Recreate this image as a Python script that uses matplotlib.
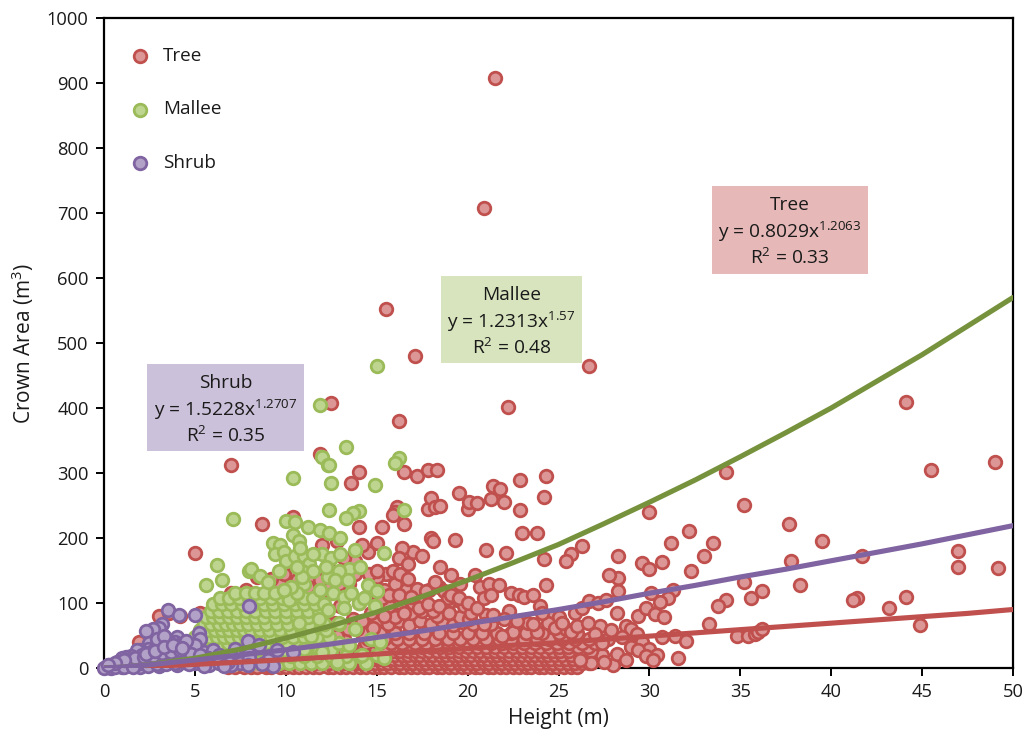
import numpy as np
import matplotlib
matplotlib.use("Agg")
import matplotlib.pyplot as plt
from matplotlib.patches import Rectangle

plt.rcParams['font.family'] = ['Open Sans', 'DejaVu Sans']
plt.rcParams['mathtext.fontset'] = 'custom'
plt.rcParams['mathtext.rm'] = 'Open Sans'
plt.rcParams['mathtext.default'] = 'regular'

tree_sparse = [(21.5,908),(20.9,707),(15.5,552),(17.1,480),(26.7,464),(22.2,402),(12.5,408),(16.2,380),(11.9,330),(7,313),
(13.6,284),(14,302),(16.5,302),(17.2,296),(17.8,304),(18.3,305),(21.4,280),(21.8,275),(21.3,260),(22,255),(19.5,269),(20,245),
(20.1,255),(20.5,254),(22.9,243),(22.9,289),(24.2,263),(24.3,295),(23.8,207),(23,208),(17.8,245),(18,262),(18.2,248),(18.5,250),
(16.1,248),(16,240),(16.5,222),(15.9,235),(15,193),(15.3,217),(14,217),(8.7,221),(10.4,232),(44.1,410),(45.5,304),(49,317),
(34.2,302),(35.2,251),(37.7,221),(39.5,195),(41.7,172),(47,180),(47,156),(49.2,154),(44.1,109),(41.4,108),(41.2,104),(43.2,92),
(44.9,66),(37.8,165),(38.3,127),(36.2,118),(35.2,132),(35.6,107),(34.2,105),(33.8,96),(33.5,193),(33,172),(32.2,211),(32.3,150),
(31.2,193),(31.3,120),(31,108),(30.6,102),(30.7,163),(30,240),(29.6,162),(30,153),(28.3,173),(28.3,138),(27.8,143),(28.3,118),
(25.7,175),(25.4,164),(26.3,188),(24.2,167),(24.3,127),(21,182),(22.1,177),(19.3,197),(18,200),(18.5,155),(17,178),(16.4,185),
(16.2,170),(15.5,145),(15,140),(14.5,178),(14.2,190),(13.8,165),(13.2,170),(12.8,195),(12.5,150),(12,190),(11.5,140),(11,160),
(10.2,145),(9.7,130),(9.2,137),(8.4,140),(7.8,120),(7,115),(6.3,90),(5.3,85),(5,177),(3,80),(3.6,85),(4.2,80),(1.9,40),
(16.7,160),(17.5,172),(18.1,195),(18.4,125),(19.1,143),(19.6,130),(20.4,143),(20.7,125),(21.2,130),(21.7,128),(22.4,115),(22.8,112),
(23.1,110),(23.6,112),(24,95),(24.6,80),(25,78),(25.4,60),(25.9,85),(26.3,92),(26.7,103),(27.2,100),(27.6,105),(28.2,84),(28.7,65),
(29,60),(29.4,80),(29.8,92),(30.1,115),(30.3,83),(30.8,78),(31.4,50),(31.6,16),(32,42),(33.3,68),(34.8,50),(35.4,50),(35.8,52),
(36,55),(36.2,60),(29.3,52),(29.6,40),(30,30),(30.4,20),(30.7,48),(27.3,65),(27.7,45),(27.9,58),(28,5),(27.5,10),(26.8,8),(26.2,12),
(19.4,105),(19.8,95),(20.2,85),(21,82),(21.4,82),(22.3,88),(23.3,70),(23.8,55),(24.4,70),(22.5,55),(21.9,50),(20.9,68),
(18.9,100),(18.1,88),(17.6,105),(17,100),(16.6,120),(16,130),(15.4,120),(15,115),(14.4,110),(14,100),(13.5,130),(13,95),
(12.5,115),(12.1,85),(11.4,92),(10.8,105),(10.1,90),(9.4,75),(8.8,95),(8.3,70),(7.6,55),(18.7,118),(17.9,120),(17.3,118),(16.3,100),
(15.7,95),(14.7,85),(13.7,75),(12.7,70),(11.7,65),(10.6,60),(9.6,50),(8.9,45),(7.9,35),(6.9,20),
(14.6,145),(15,150),(15.9,150),(16.3,145),(16.7,137),(17.2,122),(17.7,118),(18.2,132),(18.9,108),(19.1,112),(19.5,108),(20,100),
(20.5,92),(20.9,108),(21.3,112),(22,75),(22.7,72),(23.6,68),(24.1,84),(24.8,62),(25.2,70),(25.7,55),(26,64),(26.6,70),
(27,52),(27.4,38),(28.5,48),(29,32),(29.4,28),(29.8,18),(30.2,12),(28.2,22),(28.7,12),
(13.8,145),(13.2,125),(12.9,130),(12.3,125),(11.9,135),(11.2,125),(10.6,135),(9.9,145),(9.1,120),(14.9,100),(15.3,108),(15.7,112),
(16.2,112),(16.9,110),(17.3,92),(17.8,98),(18.4,95),(19,85),(16,78),(16.5,85),(15.4,80),(14.8,62),(14.2,72),(13.4,60),(12.8,50)]
tree_row_y = [2, 8, 14, 20, 26, 32, 38, 45, 54]
tree_row_x = [
[6.8,7.2,7.7,8.1,8.4,8.9,9.2,9.7,10,10.4,10.7,11.1,11.5,11.8,12.3,12.6,13,13.3,13.7,14.1,14.4,14.8,15.1,15.4,15.8,16.2,16.5,16.9,17.2,17.6,17.9,18.3,18.6,19,19.3,19.7,20,20.4,20.7,21.1,21.4,21.8,22.1,22.5,22.8,23.2,23.5,23.9,24.2,24.6,24.9,25.3,25.7,26],
[8.1,8.6,9,9.5,9.9,10.3,10.8,11.2,11.6,12,12.4,12.8,13.2,13.5,13.9,14.2,14.6,14.9,15.3,15.6,16,16.3,16.7,17,17.4,17.7,18.1,18.4,18.8,19.1,19.5,19.8,20.2,20.5,20.9,21.2,21.6,21.9,22.3,22.6,23,23.3,23.7,24,24.4,24.7,25.1,25.5,25.9,26.3,26.7],
[9.4,10,10.5,11,11.4,11.9,12.3,12.7,13.1,13.4,13.8,14.1,14.5,14.8,15.2,15.5,15.9,16.2,16.6,16.9,17.3,17.6,18,18.3,18.7,19,19.4,19.7,20.1,20.4,20.8,21.1,21.5,21.8,22.2,22.5,22.9,23.2,23.6,23.9,24.3,24.6,25,25.4,25.8,26.2,26.6,27],
[11,11.6,12.2,12.6,13,13.5,13.9,14.3,14.6,15,15.3,15.7,16,16.4,16.7,17.1,17.4,17.8,18.1,18.5,18.8,19.2,19.5,19.9,20.2,20.6,20.9,21.3,21.6,22,22.3,22.7,23,23.4,23.7,24.1,24.4,24.8,25.2,25.7,26.3,26.9,27.4],
[12.6,13.2,13.7,14.2,14.6,15,15.5,15.9,16.3,16.7,17.1,17.5,17.9,18.3,18.7,19.1,19.5,19.9,20.3,20.7,21.1,21.5,21.9,22.3,22.7,23.1,23.5,23.9,24.3,24.7,25.1,25.6,26.2,26.8],
[13.5,14.3,14.9,15.4,16,16.5,17,17.5,18,18.5,19,19.5,20,20.5,21,21.5,22,22.5,23,23.5,24,24.5,25,25.5,26.1,26.6],
[14.4,15.1,15.8,16.4,17.1,17.7,18.3,18.9,19.5,20.1,20.7,21.3,21.9,22.5,23.1,23.7,24.3,24.9,25.6,26.3,27],
[13.2,14.5,15.4,16.1,16.8,17.5,18.2,18.9,19.6,20.3,21,21.7,22.4,23.1,23.8,24.5,25.2,25.9,26.7],
[14.2,15.2,16,16.8,17.6,18.4,19.2,20,20.8,21.6,22.4,23.2,24.1,25,26],
]
tree_upper = [(15.6,68),(16.2,72),(16.8,66),(17.4,72),(18,67),(18.6,72),(19.2,66),(19.7,71),(20.3,67),(21.3,68),(22.6,66),
(16.9,84),(17.5,88),(18.3,80),(19,84),(19.6,78),(20.1,76),(15.9,82),(14.9,70),(13.9,60)]

mallee_sparse = [(15,464),(11.9,405),(13.3,340),(16.2,323),(12,325),(12.3,312),(12.4,313),(16,316),(10.4,292),(12.5,284),(14.9,281),
(16.5,243),(12.4,243),(14,242),(13.7,239),(13.3,231),(7.1,229),(10,226),(10.5,224),(11.2,217),(11.9,213),(12.4,208),(13,200),(13.8,182),
(15.4,177),(10.4,205),(9.3,192),(9.7,190),(9.4,175),(9.9,178),(10,165),(10.5,172),(11,172),(11.3,160),(12,175),(11.5,175),(12.5,170),
(13,175),(13.5,153),(14.1,156),(13.4,135),(6.2,158),(6.5,135),(5.6,128),(8,150),(8.1,153),(8.6,142),(9,133),(10.7,195),(10.9,150),
(11.5,150),(12.9,150),(12.3,140),(11,130),(11.9,120),(12.6,115),(13.2,110),(14.5,128),(15,118),(14,100),(13.2,92),(12.3,90),(11.8,75),
(12.9,70),(13.8,60),(14.7,45),(15,20),(14.2,20),(13.5,35),(12.8,10),(12,25),(11,30),(11.4,50),(10.7,70),(10.2,105),(10.6,115),
(10.8,185),(10.9,140),(10.6,155),(10.3,125),(9.9,120),(9.6,150),(12.2,155),(12.7,135),(13.6,115),(14.3,108),(14.9,95),(15.2,40),(15.4,16)]
mallee_row_y = [8, 18, 28, 38, 48, 58, 68, 78, 88, 98, 108, 116]
mallee_row_x = [
[4.6,5.2,5.8,6.3,6.8,7.3,7.7,8.1,8.6,9.1,9.6,10.2,10.8,11.4,12,12.8,13.5,14.4],
[3.9,4.7,5.3,5.8,6.2,6.6,7,7.4,7.8,8.2,8.7,9.2,9.7,10.3,11,11.7,12.5,13.3,14.1],
[3.2,4.4,5,5.5,5.9,6.3,6.7,7.1,7.5,7.9,8.3,8.8,9.3,9.9,10.5,11.1,11.8,12.5],
[4.7,5.2,5.6,6,6.4,6.8,7.2,7.6,8,8.4,8.9,9.5,10.1,10.7,11.3,12,12.9],
[5,5.4,5.8,6.2,6.6,7,7.4,7.8,8.2,8.7,9.2,9.8,10.4,11,11.7,12.4],
[5.3,5.7,6.1,6.5,6.9,7.3,7.7,8.1,8.6,9.1,9.7,10.3,10.9,11.5,12.2],
[5.5,5.9,6.3,6.7,7.1,7.5,7.9,8.4,8.9,9.5,10.1,10.7,11.3,12.1,12.9],
[5.6,6,6.4,6.9,7.3,7.8,8.3,8.8,9.4,10,10.6,11.2,11.8],
[5.9,6.3,6.8,7.3,7.8,8.3,8.9,9.4,10,10.6,11.2,11.8],
[6,6.5,7,7.6,8.2,8.8,9.3,9.9,10.5,11,11.6,12.1],
[6.4,6.9,7.4,8,8.6,9.2,9.8,10.4,11,11.5],
[7.2,7.8,8.3,8.8,9.4,10,10.6],
]

shrub_points = [(3.5,90),(3.2,68),(3,62),(2.7,60),(2.3,57),(4.1,82),(5,82),(8,95),(7.9,42),(7.2,30),(5.2,54),(5.3,45),(4,48),(3.9,40),
(3.5,42),(3,37),(2.8,34),(2.5,38),(2.4,30),(2,27),(1.8,28),(1.5,18),(1.2,17),(1,15),(0.7,10),(0.3,5),(0.1,1),(0.2,2),(0.5,3),(1,8),
(1.5,10),(2,14),(2.5,15),(3,20),(3.5,22),(4,25),(4.5,28),(5,28),(5.5,24),(6,28),(6.6,12),(6,10),(7,18),(7.5,8),(8,22),(9,12),(9.3,3),
(10.4,25),(9.5,28),(8.5,35),(8,15),(7,5),(5,8),(4,5),(3,3),(2,2),(1,1),(0.4,0),(0,0),(0.8,4),(1.3,5),(1.8,6),(2.2,8),(2.7,9),(3.2,10),
(3.7,12),(4.2,14),(4.7,15),(5.2,16),(5.7,15),(6.3,20),(2.1,20),(2.6,24),(3.1,28),(3.6,32),(4.1,35),(4.6,38),(5,35),(1.4,12),(0.9,6),(2.9,45),
(3.3,50),(4.5,42),(3.7,30),(0.6,1),(1.1,2),(1.6,2),(2.4,3),(2.9,6),(3.4,6),(3.9,8),(4.4,9),(4.9,12),(5.4,9),(5.8,5),(6.3,8),(2.3,12),(2.8,13),
(3.3,15),(3.8,17),(4.3,19),(4.8,21),(5.3,20),(1.7,15),(2.2,17),(2.7,19),(3.2,23),(3.7,24),(4.2,27),(2.3,22),(2.8,26),(3.3,33),(3.8,36),(4.3,31),
(1.1,12),(0.6,7),(0.2,4),(8.7,6),(7.9,5),(6.8,9),(4.7,6),(5.5,3),(6.6,3)]

trend_x = [0, 1, 2.5, 5, 7.5, 10, 12.5, 15, 17.5, 20, 22.5, 25, 27.5, 30, 32.5, 35, 37.5, 40, 42.5, 45, 47.5, 50]
tree_trend = [0, 0.8, 2.4, 5.6, 9, 12.9, 17, 21.4, 26, 30, 35, 39, 44, 49, 54, 59, 64, 69, 74, 79, 84, 90]
mallee_trend = [0, 1.2, 5.4, 15, 29, 46, 65, 86, 110, 135, 162, 190, 222, 255, 289, 325, 362, 400, 441, 482, 526, 570]
shrub_trend = [0, 1.5, 5, 12.3, 20, 28, 37, 47, 57, 68, 79, 90, 102, 115, 127, 140, 152, 165, 178, 191, 205, 219]

x_ticks = list(range(0, 51, 5))
y_ticks = list(range(0, 1001, 100))

fig = plt.figure(figsize=(10.29, 7.46), dpi=100)
W, H = 1029, 746
ax = fig.add_axes([104/W, 1-668/H, (1013-104)/W, (668-18)/H])
ax.set_xlim(0, 50)
ax.set_ylim(0, 1000)

def pts(*lists):
    return np.array([p for l in lists for p in l], dtype=float)

def rows(ys, xs):
    return [(x, y) for y, r in zip(ys, xs) for x in r]

tree = pts(rows(tree_row_y, tree_row_x), tree_upper, tree_sparse)
mallee = pts(rows(mallee_row_y, mallee_row_x), mallee_sparse)
shrub = pts(shrub_points)
mk = dict(s=82, linewidths=2.0, clip_on=False)
h1 = ax.scatter(tree[:, 0], tree[:, 1], c='#DB9695', edgecolors='#C0504D', zorder=3, label='Tree', **mk)
h2 = ax.scatter(mallee[:, 0], mallee[:, 1], c='#BDD58F', edgecolors='#9BBB59', zorder=4, label='Mallee', **mk)
h3 = ax.scatter(shrub[:, 0], shrub[:, 1], c='#B3A2C7', edgecolors='#8064A2', zorder=5, label='Shrub', **mk)
ax.plot(trend_x, tree_trend, color='#C0504D', lw=3.7, zorder=6, solid_capstyle='round')
ax.plot(trend_x, mallee_trend, color='#76923C', lw=3.7, zorder=7, solid_capstyle='round')
ax.plot(trend_x, shrub_trend, color='#8064A2', lw=3.7, zorder=8, solid_capstyle='round')

ax.set_xticks(x_ticks)
ax.set_yticks(y_ticks)
ax.tick_params(axis='both', direction='out', length=6, width=1.4, labelsize=13.2, pad=5, color='black', labelcolor='#1a1a1a')
for s in ax.spines.values():
    s.set_linewidth(1.6)
ax.set_xlabel('Height (m)', fontsize=15, labelpad=5, color='#1a1a1a')
ax.set_ylabel('Crown Area (m$^3$)', fontsize=15, labelpad=8, color='#1a1a1a')

leg = ax.legend(handles=[h1, h2, h3], loc='upper left', bbox_to_anchor=(0.0, 0.981), frameon=False,
                fontsize=13.6, labelspacing=1.86, handletextpad=0.22, scatterpoints=1, markerscale=1)
for t in leg.get_texts():
    t.set_color('#1a1a1a')

boxes = [
    (712, 186, 868, 274, '#E6B9B8', ['Tree', 'y = 0.8029x$^{1.2063}$', 'R$^2$ = 0.33']),
    (441, 276, 582, 363, '#D7E4BD', ['Mallee', 'y = 1.2313x$^{1.57}$', 'R$^2$ = 0.48']),
    (147, 364, 304, 451, '#CCC1DA', ['Shrub', 'y = 1.5228x$^{1.2707}$', 'R$^2$ = 0.35']),
]
for x0, y0, x1, y1, col, lines in boxes:
    fig.add_artist(Rectangle((x0/W, 1-y1/H), (x1-x0)/W, (y1-y0)/H, transform=fig.transFigure,
                             facecolor=col, edgecolor='none', zorder=10))
    cx = (x0+x1)/2/W
    for i, s in enumerate(lines):
        fig.text(cx, 1-(y0+19+i*26.5)/H, s, ha='center', va='center', fontsize=13.8, color='#1a1a1a', zorder=11)

fig.savefig('out.png', dpi=100, facecolor='white')
